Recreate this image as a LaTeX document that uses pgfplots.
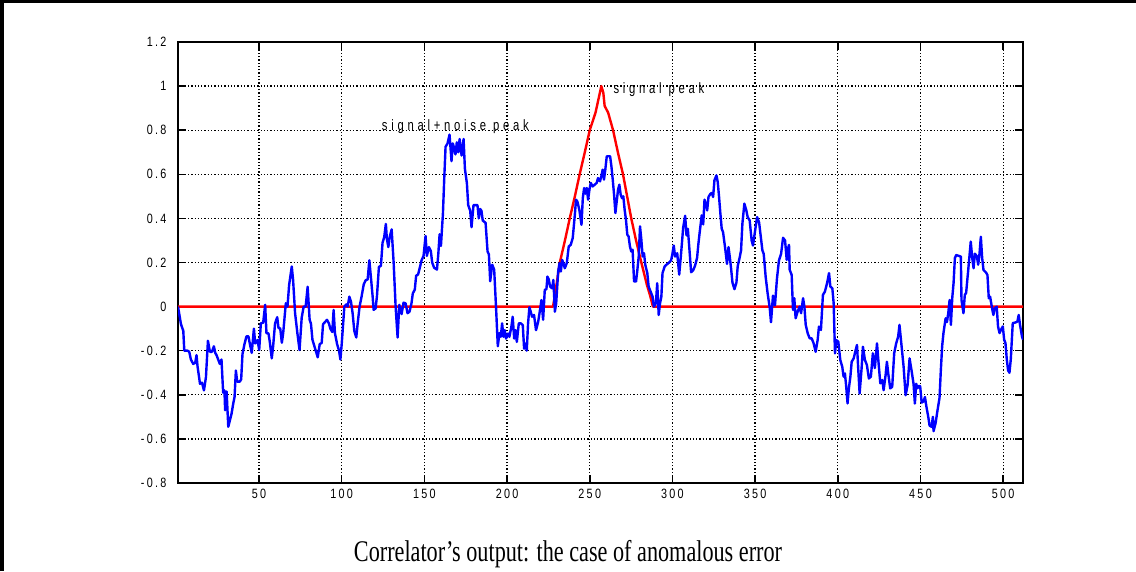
\documentclass[border=0pt]{standalone}
\usepackage{fontspec}
\setmainfont{Liberation Serif}
\newfontfamily\tickfont[LetterSpace=17,FakeStretch=0.8]{Liberation Sans}
\newfontfamily\notefont[LetterSpace=25,FakeStretch=0.75]{Liberation Sans}
\newfontfamily\capfont[FakeStretch=0.74]{Liberation Serif}
\usepackage{pgfplots}
\pgfplotsset{compat=1.18}
\definecolor{mblue}{RGB}{0,0,255}
\definecolor{mred}{RGB}{255,0,0}
\begin{document}
\begin{tikzpicture}[x=1pt,y=1pt]
\path[use as bounding box] (0,0) rectangle (1136,571);
\begin{axis}[at={(178pt,88pt)}, anchor=south west, scale only axis,
  width=845pt, height=441pt,
  xmin=1, xmax=512, ymin=-0.8, ymax=1.2,
  xtick={50,100,150,200,250,300,350,400,450,500},
  xticklabels={50,100,150,200,250,300,350,400,450,500},
  ytick={-0.8,-0.6,-0.4,-0.2,0,0.2,0.4,0.6,0.8,1,1.2},
  yticklabels={-0.8,-0.6,-0.4,-0.2,0,0.2,0.4,0.6,0.8,1,1.2},
  ticklabel style={font=\tickfont\fontsize{13.5pt}{14pt}\selectfont, black},
  xticklabel style={yshift=-3pt},
  yticklabel style={xshift=-8pt},
  tick align=inside, xtick pos=both, ytick pos=both,
  major tick length=8pt,
  every tick/.style={black, line width=1.5pt},
  axis line style={line width=2pt},
  grid=major,
  major grid style={black, line width=1.3pt, dash pattern=on 1.3pt off 2pt},
  clip=true,
]
\addplot[mred, line width=2.4pt, line join=round] coordinates {
(1,0) (227.8,0) (229.5,0.08) (231.9,0.2) (235,0.3) (237.9,0.4) (241,0.5) (243.9,0.6) (247,0.7) (250,0.8) (253.5,0.88) (257,1.0) (258.2,0.97) (259,0.91) (261.1,0.88) (264.1,0.8) (267,0.7) (270.1,0.6) (272.6,0.5) (275.1,0.4) (278,0.3) (281.2,0.2) (284.5,0.1) (286.5,0.05) (288.2,0) (512,0)
};
\addplot[mblue, line width=2.4pt, line join=round] coordinates {
(1,0) (2.8,-0.08) (4.2,-0.11) (4.8,-0.2) (6.8,-0.2) (7.8,-0.205) (8.8,-0.24) (10.2,-0.26) (11.4,-0.255) (12.2,-0.22) (12.8,-0.27) (14.3,-0.35) (15.5,-0.345) (16.7,-0.38) (17.9,-0.32) (19.1,-0.155) (20.3,-0.205) (21.5,-0.205) (22.7,-0.18) (23.5,-0.21) (24.3,-0.22) (25.3,-0.24) (26.3,-0.26) (27.3,-0.24) (28.3,-0.39) (29.1,-0.38) (29.5,-0.47) (30.4,-0.385) (31.4,-0.545) (32.4,-0.515) (33.4,-0.485) (34.4,-0.44) (35.2,-0.41) (36,-0.29) (36.8,-0.34) (38.4,-0.34) (39.2,-0.33) (40,-0.215) (41.2,-0.17) (42.4,-0.135) (43.6,-0.135) (44.4,-0.167) (45.6,-0.21) (46.9,-0.1) (47.7,-0.167) (49.1,-0.152) (50.1,-0.197) (51.1,-0.076) (52.5,-0.073) (53.7,0.008) (54.5,-0.121) (55.7,-0.121) (56.5,-0.159) (57.7,-0.235) (58.5,-0.182) (59.7,-0.076) (61,-0.048) (61.8,-0.098) (62.8,-0.098) (63.8,-0.164) (64.6,-0.121) (66.2,0.015) (67.2,0) (68.2,0.098) (69.8,0.182) (70.6,0.121) (71.8,-0.03) (73.2,-0.121) (74.5,-0.197)
(75.8,-0.05) (77,0) (78.2,0) (79.4,0.09) (80.6,-0.06) (81.4,-0.077) (82.3,-0.15) (83.5,-0.18) (84.7,-0.21) (85.5,-0.23) (86.7,-0.17) (87.9,-0.165) (88.7,-0.08) (89.9,-0.07) (91.1,-0.06) (92.3,-0.077) (93.1,-0.1) (94.3,-0.115) (95.1,-0.015) (95.9,-0.12) (97.2,-0.17) (98.4,-0.2) (99.2,-0.24) (100,-0.17) (101.6,0) (102.8,0.01) (103.6,0) (104.6,0.045) (105.6,0.023) (106.6,-0.03) (107.6,-0.11) (108.8,-0.14) (109.6,-0.08) (110.8,0) (112,0.045) (113.3,0.1) (114.5,0.12) (115.7,0.123) (116.7,0.21) (117.7,0.13) (118.7,0.046) (119.3,-0.015) (120.5,-0.008) (121.3,0.046) (122.5,0.18) (123.7,0.185) (124.7,0.29) (125.7,0.315) (126.7,0.375) (127.3,0.308) (128.2,0.27) (129,0.315) (130.2,0.35) (131.4,0.2) (132.6,0) (133.8,-0.14) (134.8,0.008) (136.2,-0.034) (137.4,0.018) (138.6,0.015) (139.8,-0.03) (141,-0.023) (142.2,0.015) (143,0.06) (144.2,0.077) (145,0.14) (146.2,0.146) (147.5,0.185) (148.3,0.21) (149.5,0.23)
(150.7,0.32) (151.5,0.23) (152.7,0.27) (153.9,0.252) (154.7,0.2) (155.9,0.176) (157.6,0.168) (158.4,0.237) (159.2,0.328) (160,0.275) (161.2,0.42) (162,0.58) (162.8,0.725) (164,0.74) (165.2,0.78) (166.4,0.66) (167.2,0.74) (168,0.718) (168.8,0.69) (169.6,0.745) (170.5,0.70) (171.3,0.76) (172.5,0.685) (173.7,0.76) (174.5,0.625) (175.7,0.56) (176.5,0.46) (177.7,0.435) (178.5,0.36) (179.7,0.46) (180.9,0.46) (182.1,0.46) (182.9,0.4) (183.7,0.443) (184.5,0.435) (185.3,0.39) (187,0.38) (188.2,0.25) (189,0.237) (189.8,0.115) (191,0.19) (192.2,0.168) (193.4,-0.015) (194.4,-0.18) (195.4,-0.12) (196.2,-0.137) (197,-0.076) (197.8,-0.137) (198.6,-0.107) (199.4,-0.145) (200.6,-0.122) (201.4,-0.137) (202.6,-0.092) (203.4,-0.046) (204.3,-0.145) (205.1,-0.107) (205.9,-0.16) (207.1,-0.076) (208.3,-0.076) (209.5,-0.084) (210.3,-0.191) (211.1,-0.168) (211.9,-0.2) (212.7,-0.076) (213.5,-0.003) (214.3,-0.023) (215.1,-0.046) (216.3,-0.038) (217.5,-0.107) (218.8,-0.069) (219.6,-0.031) (220.8,0.03)
(221.8,-0.06) (222.8,0.076) (223.8,0.079) (224.4,0.136) (225.2,0.124) (226,0.091) (227.2,0.083) (228,0.121) (228.9,-0.023) (229.7,0.015) (230.9,0.159) (231.7,0.197) (232.5,0.159) (233.3,0.212) (234.1,0.197) (234.9,0.174) (236.1,0.197) (237.3,0.273) (238.5,0.28) (239.7,0.311) (240.9,0.409) (241.7,0.485) (242.5,0.477) (243.7,0.439) (245,0.371) (245.8,0.492) (246.6,0.538) (247.4,0.512) (248.2,0.538) (249,0.485) (249.8,0.53) (250.6,0.561) (251.8,0.545) (253,0.553) (254.2,0.561) (255,0.583) (256.2,0.568) (257,0.591) (257.8,0.621) (258.6,0.576) (259.4,0.621) (260.3,0.682) (262.3,0.682) (263.1,0.636) (263.9,0.576) (264.7,0.508) (265.5,0.424) (266.3,0.477) (267.1,0.53) (267.9,0.553) (268.7,0.508) (269.5,0.492) (270.3,0.5) (271.1,0.439) (271.9,0.394) (272.7,0.326) (273.5,0.318) (274.3,0.273) (275.1,0.25) (275.9,0.258) (276.8,0.114) (278,0.114) (278.8,0.167) (279.6,0.227) (280.4,0.364) (281.2,0.303) (282,0.227) (282.8,0.242) (283.6,0.189) (284.8,0.152) (285.6,0.091) (286.8,0.068) (288,0.045) (288.8,0) (290,0.015) (290.8,0.106) (291.7,-0.038) (292.5,0.015) (293.3,0.045) (294,0.152) (295.3,0.182)
(296.4,0.19) (298,0.2) (299.2,0.21) (300,0.24) (300.8,0.277) (301.6,0.227) (302.9,0.242) (304.1,0.145) (305.3,0.247) (306.5,0.359) (307.7,0.412) (308.5,0.323) (309.3,0.353) (310.1,0.277) (311.3,0.156) (312.5,0.164) (313.7,0.186) (314.9,0.221) (315.7,0.285) (316.5,0.338) (317.7,0.414) (318.6,0.373) (319.4,0.485) (320.2,0.467) (321,0.436) (321.8,0.497) (323,0.512) (323.8,0.515) (324.6,0.497) (325.4,0.573) (326.6,0.595) (327.4,0.565) (328.2,0.497) (329,0.421) (329.8,0.353) (330.6,0.338) (331.8,0.27) (333,0.194) (333.9,0.27) (334.7,0.224) (335.5,0.17) (336.3,0.109) (337.5,0.079) (338.7,0.109) (339.5,0.185) (340.7,0.224) (341.5,0.255) (342.3,0.376) (343.5,0.467) (344.7,0.436) (345.5,0.406) (346.7,0.391) (347.9,0.3) (348.7,0.277) (350,0.345) (351.2,0.406) (352.4,0.382) (353.6,0.306) (354.4,0.255) (355.2,0.239) (356.4,0.133) (357.6,0.058) (358.8,-0.003) (359.6,-0.071) (360.8,0.05) (362,0.005) (363.2,0.126) (364.4,0.209) (365.7,0.239) (366.9,0.312) (368.1,0.3)
(369.1,0.212) (369.7,0.258) (370.5,0.28) (370.9,0.167) (372.1,0.144) (372.9,-0.015) (373.7,0.038) (374.5,-0.053) (375.7,-0.023) (376.9,0) (377.8,-0.03) (379,0.038) (379.8,0) (380.6,-0.083) (381.8,-0.121) (383,-0.144) (384.2,-0.144) (385.4,-0.167) (386.6,-0.205) (387.8,-0.152) (388.6,-0.091) (389.8,-0.106) (391,0.053) (392.2,0.068) (393.5,0.106) (394.7,0.152) (395.5,0.091) (396.7,0.083) (397.5,0.015) (398.3,-0.212) (399.1,-0.152) (400.3,-0.159) (401.5,-0.242) (402.7,-0.273) (403.5,-0.318) (404.3,-0.303) (405.1,-0.364) (405.9,-0.439) (406.7,-0.371) (407.6,-0.318) (408.4,-0.25) (409.6,-0.235) (410.8,-0.197) (411.6,-0.174) (412.4,-0.288) (413.2,-0.394) (414.4,-0.279) (415.2,-0.182) (416.4,-0.242) (417.6,-0.265) (418.8,-0.326) (420,-0.318) (421.2,-0.212) (422.4,-0.279) (423.7,-0.167) (424.5,-0.242) (425.7,-0.348) (426.9,-0.333) (427.7,-0.379) (428.9,-0.311) (429.7,-0.25) (430.5,-0.303) (431.7,-0.371) (432.9,-0.364) (434.1,-0.212) (435.3,-0.167) (436.5,-0.136) (437.3,-0.083) (438.5,-0.174) (439.8,-0.273) (441,-0.402) (442.2,-0.356) (443.4,-0.235)
(444.6,-0.29) (445.8,-0.35) (446.6,-0.44) (447.4,-0.35) (448.2,-0.37) (449,-0.36) (449.8,-0.36) (450.7,-0.435) (451.9,-0.43) (452.7,-0.41) (453.5,-0.45) (454.7,-0.5) (455.5,-0.54) (456.7,-0.545) (457.5,-0.5) (457.9,-0.565) (459.1,-0.53) (460.3,-0.47) (461.5,-0.415) (462.3,-0.29) (463.1,-0.18) (463.9,-0.12) (465.2,-0.053) (466,-0.07) (466.8,-0.03) (467.6,0.03) (468.4,-0.083) (469.2,0.038) (470,0.106) (470.8,0.22) (471.6,0.234) (473.2,0.23) (474.4,0.227) (474.8,0.03) (476,-0.03) (476.8,0.053) (477.6,0.062) (478.8,0.16) (479.6,0.227) (480.4,0.295) (481.3,0.22) (482.1,0.174) (482.9,0.24) (484.1,0.228) (484.9,0.19) (485.7,0.24) (486.5,0.317) (487.3,0.22) (488.1,0.166) (489.7,0.154) (490.5,0.143) (491.3,0.038) (492.1,0.045) (493.3,-0.008) (494.1,-0.038) (494.9,-0.008) (496.1,0) (496.9,-0.09) (497.8,-0.12) (499,-0.1) (499.8,-0.09) (500.6,-0.15) (501.4,-0.166) (502.2,-0.24) (503,-0.29) (503.8,-0.3) (504.6,-0.24) (505.8,-0.075) (507.4,-0.072) (508.6,-0.068) (509.4,-0.038) (510.2,-0.083) (511.4,-0.136) (512,-0.15)
};
\node[anchor=base west, inner sep=0pt, font=\notefont\fontsize{15pt}{15pt}\selectfont, black] at (axis cs:124.2,0.80) {signal+noise\hspace{7pt}peak};
\node[anchor=base west, inner sep=0pt, font=\notefont\fontsize{15pt}{15pt}\selectfont, black] at (axis cs:264.3,0.967) {signal\hspace{7pt}peak};
\end{axis}
\node[anchor=base, inner sep=0pt, font=\capfont\fontsize{30pt}{32pt}\selectfont] at (568,10) {Correlator’s output: the case of anomalous error};
\draw[line width=4pt] (2,0) -- (2,571);
\draw[line width=3pt] (0,569.5) -- (1136,569.5);
\end{tikzpicture}
\end{document}
